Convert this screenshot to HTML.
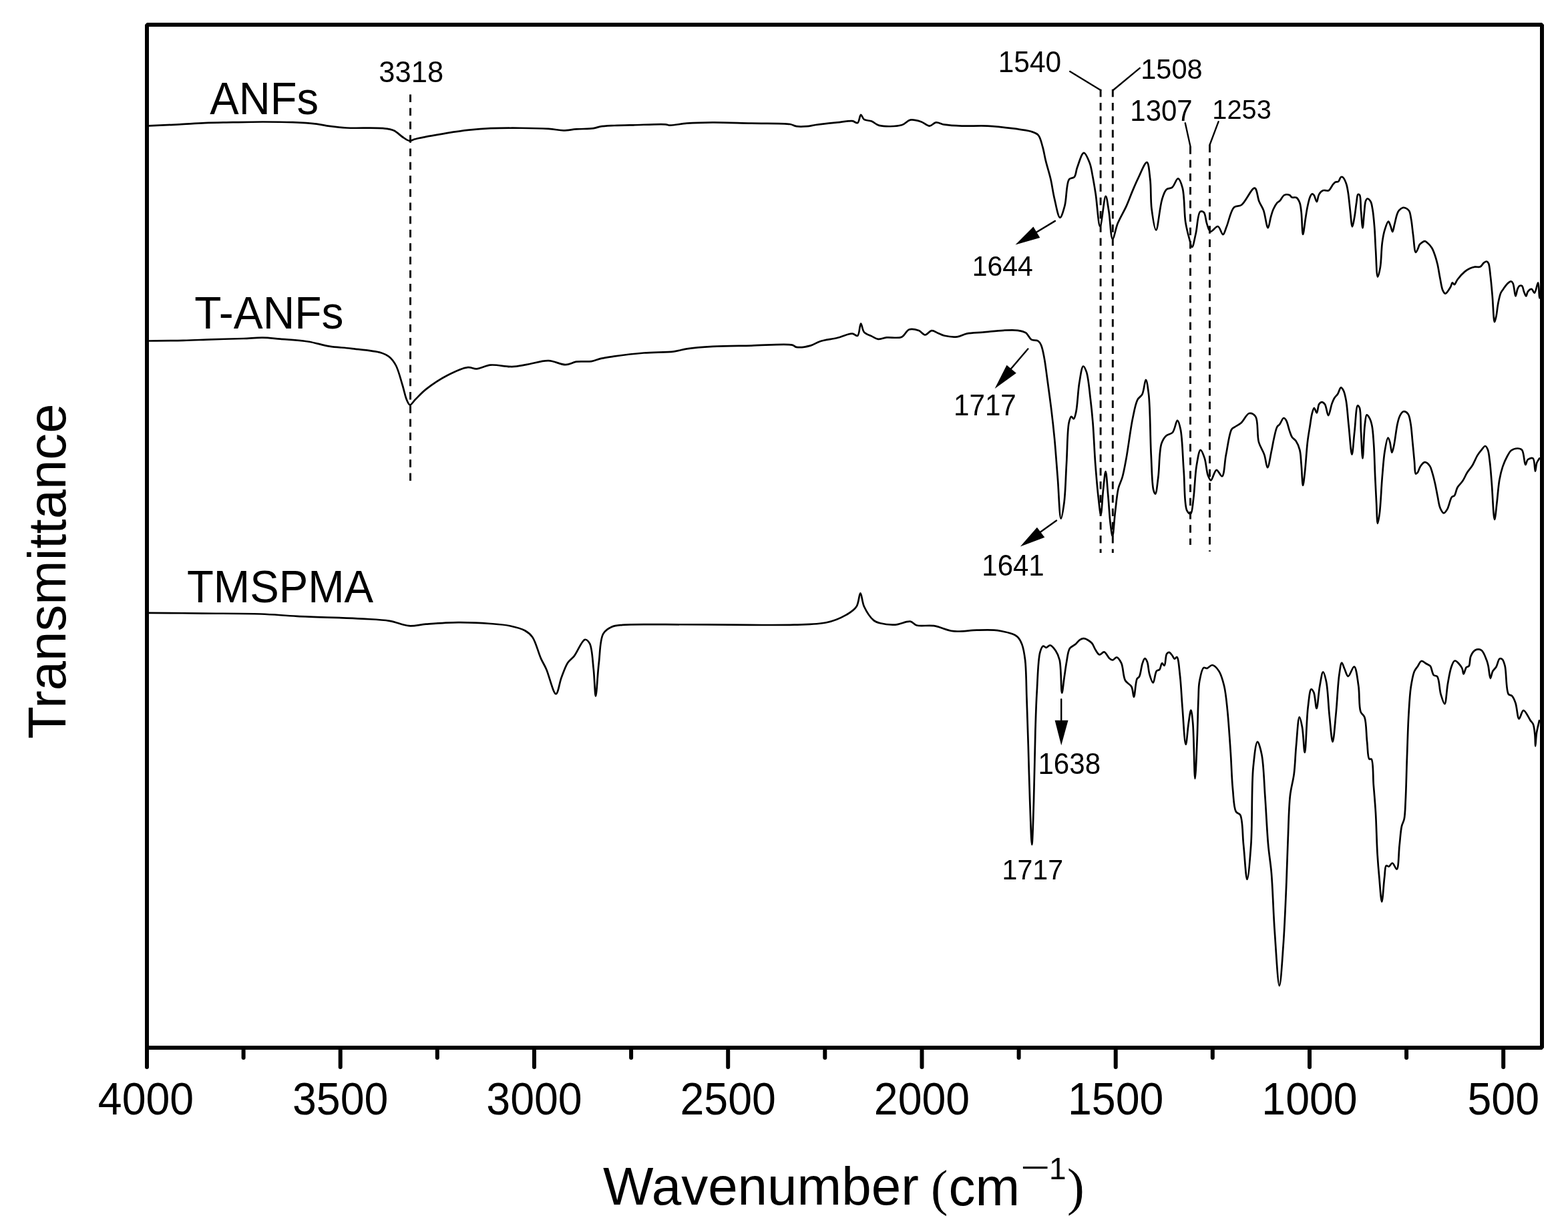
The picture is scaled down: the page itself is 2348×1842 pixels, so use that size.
<!DOCTYPE html>
<html><head><meta charset="utf-8"><title>FTIR spectra</title><style>
html,body{margin:0;padding:0;background:#fff;}
svg{display:block;}
text{font-family:"Liberation Sans",Arial,sans-serif;fill:#000;}
</style></head><body>
<svg width="2348" height="1842" viewBox="0 0 2348 1842">
<rect x="0" y="0" width="2348" height="1842" fill="#fff"/>
<g fill="none" stroke="#000" stroke-width="2.7" stroke-linejoin="round" stroke-linecap="round">
<path d="M220.0,188.5 C221.1,188.4 221.5,188.4 223.2,188.3 C229.5,188.0 253.8,187.1 268.2,186.4 C281.6,185.7 293.7,184.6 306.8,184.1 C320.5,183.5 334.4,183.5 348.6,183.2 C363.3,182.9 378.6,182.5 393.6,182.5 C408.6,182.5 424.5,182.6 438.6,183.2 C451.1,183.7 464.0,184.5 474.0,185.7 C481.4,186.6 486.4,188.0 493.3,188.9 C501.2,190.0 508.8,190.9 519.0,191.5 C533.8,192.3 560.9,190.9 573.7,192.2 C580.7,192.9 585.0,193.2 589.8,195.4 C594.6,197.5 598.5,202.3 602.6,205.0 C606.1,207.3 609.5,210.4 612.9,210.8 C615.9,211.2 617.7,209.2 621.9,208.2 C631.6,205.9 655.7,201.6 670.2,199.2 C682.0,197.3 691.6,195.9 702.3,194.7 C713.0,193.5 721.1,192.7 734.5,192.2 C756.4,191.4 801.8,191.6 821.3,192.8 C831.3,193.4 836.6,195.4 843.8,195.4 C850.5,195.4 856.2,193.9 863.1,193.4 C871.0,192.8 882.3,193.2 888.8,192.2 C892.8,191.6 894.6,190.3 898.5,189.6 C904.2,188.6 912.3,188.4 920.0,188.0 C928.8,187.6 937.5,187.5 948.2,187.3 C962.1,187.0 987.9,185.5 996.5,186.3 C999.7,186.6 1000.0,187.5 1002.9,187.6 C1008.6,187.9 1019.2,185.4 1028.6,184.7 C1040.1,183.9 1053.0,183.5 1067.2,183.4 C1084.5,183.3 1105.8,184.3 1125.1,184.7 C1144.4,185.1 1171.9,184.1 1183.0,186.0 C1187.6,186.8 1188.9,188.6 1192.6,189.2 C1197.2,190.0 1203.7,189.6 1208.7,189.2 C1213.2,188.8 1216.3,187.7 1221.5,187.0 C1229.8,185.8 1243.9,184.4 1253.7,183.4 C1261.9,182.5 1270.7,180.5 1276.2,181.2 C1279.6,181.6 1282.1,185.0 1284.2,184.1 C1286.8,183.0 1287.3,172.1 1289.1,171.9 C1290.6,171.7 1291.6,177.3 1293.9,178.9 C1296.6,180.8 1301.5,180.1 1305.1,181.5 C1309.0,183.0 1311.4,186.6 1316.4,187.9 C1324.5,189.9 1341.8,189.7 1350.2,187.3 C1355.8,185.7 1358.3,180.5 1363.0,179.6 C1367.9,178.7 1374.1,180.6 1379.1,182.2 C1383.8,183.7 1388.0,188.7 1392.0,188.6 C1395.5,188.5 1398.1,183.8 1401.6,183.4 C1405.5,182.9 1409.4,185.9 1414.5,186.7 C1421.6,187.9 1430.8,188.3 1440.2,188.6 C1451.8,189.0 1466.0,188.0 1478.8,188.6 C1491.6,189.2 1505.6,190.9 1517.2,192.4 C1526.8,193.7 1536.8,194.6 1543.6,196.8 C1548.2,198.3 1551.9,199.1 1554.7,202.3 C1558.2,206.2 1559.5,213.9 1561.3,220.0 C1563.2,226.4 1563.9,232.6 1565.7,239.8 C1567.8,248.5 1571.2,258.9 1573.4,268.5 C1575.6,278.0 1576.6,287.6 1578.9,297.1 C1581.2,306.7 1584.4,325.7 1587.3,325.8 C1589.6,325.9 1592.4,315.3 1594.4,308.1 C1597.3,297.6 1596.5,274.3 1601.0,268.5 C1603.1,265.8 1606.8,267.3 1608.7,265.1 C1611.3,262.2 1611.1,256.0 1613.1,250.8 C1615.6,244.2 1619.6,229.0 1623.0,228.8 C1625.9,228.7 1629.6,238.6 1631.8,244.2 C1634.1,250.2 1634.8,256.9 1636.2,264.0 C1637.8,272.2 1639.1,280.3 1640.7,290.5 C1642.8,304.2 1644.8,338.9 1647.3,339.0 C1649.8,339.1 1653.2,293.8 1655.7,293.8 C1657.5,293.8 1659.0,308.2 1660.5,317.0 C1662.5,328.7 1663.3,357.5 1666.0,357.8 C1668.1,358.0 1670.5,342.5 1673.7,334.6 C1677.3,325.9 1683.1,316.6 1686.9,308.1 C1690.3,300.5 1692.8,293.2 1695.8,286.1 C1698.7,279.3 1701.2,273.1 1704.6,266.3 C1708.3,258.8 1714.4,242.6 1717.4,243.1 C1720.3,243.6 1721.1,258.8 1722.3,268.5 C1723.8,281.1 1722.8,299.1 1724.5,312.6 C1726.0,324.2 1728.8,344.5 1731.1,344.5 C1733.9,344.5 1736.5,310.3 1739.9,299.3 C1741.9,292.7 1743.3,286.9 1746.5,283.9 C1748.9,281.6 1752.7,282.7 1755.3,280.6 C1758.7,277.9 1761.5,267.2 1764.1,267.4 C1766.7,267.6 1769.1,275.3 1770.8,281.7 C1773.9,293.2 1773.1,318.6 1775.2,332.4 C1776.7,342.0 1778.8,349.9 1780.7,356.7 C1782.1,361.8 1783.6,369.9 1785.1,369.9 C1786.9,369.9 1788.8,357.5 1790.6,350.0 C1792.9,340.4 1793.4,319.6 1797.2,317.0 C1798.8,316.0 1801.2,316.7 1802.7,318.1 C1805.3,320.5 1805.3,329.6 1807.1,334.6 C1808.7,339.0 1809.9,346.0 1812.7,346.7 C1815.5,347.4 1820.6,338.4 1823.7,339.0 C1826.9,339.6 1829.2,351.3 1831.4,351.1 C1833.5,350.9 1834.8,343.9 1836.9,339.0 C1840.0,331.5 1842.8,315.2 1847.9,310.4 C1851.1,307.5 1855.2,309.6 1859.0,307.0 C1865.3,302.7 1874.3,280.9 1878.8,281.7 C1882.4,282.3 1883.0,295.6 1885.4,301.5 C1887.4,306.5 1890.0,309.5 1892.0,314.8 C1894.7,322.0 1896.7,341.2 1898.7,341.2 C1900.3,341.2 1901.5,329.9 1903.0,325.0 C1904.2,320.8 1905.2,316.9 1906.8,313.3 C1908.4,309.8 1910.6,305.9 1912.5,303.7 C1913.8,302.3 1915.0,302.1 1916.4,300.8 C1918.5,298.8 1920.5,293.4 1923.2,292.1 C1925.5,291.0 1928.9,291.3 1930.9,292.1 C1932.5,292.7 1933.1,294.9 1934.7,295.6 C1936.5,296.4 1939.6,294.9 1941.5,296.0 C1943.6,297.3 1945.1,300.6 1946.3,303.7 C1947.7,307.5 1947.9,311.7 1948.6,317.2 C1949.7,325.9 1949.9,350.8 1951.1,350.9 C1952.1,350.9 1953.8,334.2 1955.0,326.8 C1956.0,320.6 1956.7,315.0 1957.9,309.5 C1959.0,304.4 1960.2,298.4 1961.7,295.0 C1962.6,293.0 1963.5,290.8 1964.6,290.5 C1965.5,290.3 1966.6,291.1 1967.5,292.1 C1969.1,293.9 1970.5,302.2 1971.8,302.1 C1973.1,302.0 1973.4,294.0 1975.2,291.1 C1976.7,288.6 1979.0,286.1 1981.0,285.3 C1982.6,284.6 1984.4,285.3 1985.9,285.3 C1987.2,285.3 1988.4,286.0 1989.7,285.3 C1991.9,284.1 1994.6,277.9 1996.5,275.7 C1997.6,274.4 1998.2,273.5 1999.4,272.8 C2000.7,272.1 2002.9,272.8 2004.2,271.8 C2005.9,270.6 2006.5,265.8 2008.0,265.1 C2008.9,264.7 2010.0,264.8 2010.9,265.5 C2012.7,266.7 2014.5,271.2 2015.8,274.7 C2017.3,278.7 2017.8,283.0 2018.7,288.2 C2019.9,295.3 2020.6,304.9 2021.6,313.3 C2022.7,321.9 2023.7,339.3 2025.0,339.4 C2026.0,339.4 2027.3,330.2 2028.3,324.9 C2029.5,318.5 2030.2,309.8 2031.2,303.7 C2032.0,298.9 2032.0,291.9 2033.5,291.1 C2034.2,290.7 2035.3,291.2 2036.0,292.1 C2038.0,294.8 2037.3,307.3 2038.0,315.2 C2038.8,323.6 2039.7,341.3 2040.5,341.3 C2041.3,341.3 2042.0,326.1 2042.8,319.1 C2043.5,312.7 2043.7,304.3 2045.1,300.8 C2045.8,299.1 2046.6,297.6 2047.6,297.5 C2048.9,297.4 2051.2,299.7 2052.4,301.7 C2054.1,304.4 2054.5,308.6 2055.3,313.3 C2056.6,320.4 2057.4,330.7 2058.2,340.3 C2059.1,351.2 2059.3,363.1 2060.1,375.1 C2060.9,387.9 2061.3,414.4 2063.0,414.6 C2064.0,414.7 2065.9,406.1 2066.9,400.1 C2068.5,390.7 2068.4,373.7 2069.8,363.5 C2070.8,356.0 2071.8,349.9 2073.6,344.2 C2075.1,339.5 2077.4,331.6 2079.0,331.6 C2080.2,331.6 2081.3,336.0 2082.3,338.4 C2083.4,341.1 2084.3,347.1 2085.2,347.1 C2086.2,347.1 2087.1,340.4 2088.1,336.5 C2089.3,331.8 2090.6,324.9 2092.0,321.0 C2092.9,318.5 2093.5,316.8 2094.9,315.2 C2096.4,313.5 2098.7,311.4 2100.7,311.0 C2102.5,310.6 2104.8,311.5 2106.4,312.4 C2108.0,313.3 2109.3,314.4 2110.3,316.2 C2111.9,319.0 2112.3,323.9 2113.2,328.8 C2114.4,335.3 2115.0,344.0 2116.1,351.9 C2117.3,360.3 2118.0,377.5 2120.0,377.9 C2121.1,378.1 2122.8,373.3 2123.8,371.2 C2124.6,369.5 2124.5,367.9 2125.7,366.4 C2127.3,364.4 2131.4,361.2 2133.5,361.2 C2135.0,361.2 2135.9,362.4 2137.3,363.5 C2139.4,365.2 2142.2,368.2 2144.1,371.2 C2146.2,374.5 2147.5,378.7 2148.9,382.8 C2150.4,387.1 2151.5,391.3 2152.7,396.3 C2154.1,402.5 2155.2,410.8 2156.6,417.5 C2157.8,423.6 2158.7,431.0 2160.5,434.9 C2161.6,437.2 2162.8,439.7 2164.3,439.7 C2166.4,439.7 2170.2,433.0 2172.0,430.0 C2173.4,427.7 2173.7,423.5 2174.9,423.3 C2175.8,423.1 2176.8,426.3 2177.8,426.2 C2179.3,426.0 2180.5,421.2 2182.6,418.5 C2185.3,414.9 2189.8,409.8 2193.3,406.9 C2195.9,404.7 2198.4,403.3 2201.0,402.1 C2203.5,400.9 2206.1,400.0 2208.7,399.6 C2211.2,399.2 2214.2,400.6 2216.4,399.6 C2218.7,398.6 2220.3,394.8 2222.2,393.4 C2223.5,392.4 2225.0,391.3 2226.1,391.5 C2227.2,391.7 2228.2,392.8 2229.0,394.4 C2230.7,397.9 2231.0,406.5 2231.9,413.6 C2233.0,422.3 2233.8,432.2 2234.7,442.6 C2235.8,454.7 2236.5,481.9 2238.0,482.1 C2238.7,482.2 2239.7,477.0 2240.5,473.5 C2241.6,468.4 2242.2,460.3 2243.4,454.2 C2244.5,448.7 2245.6,442.5 2247.3,438.7 C2248.4,436.2 2249.7,434.9 2251.1,432.9 C2252.8,430.5 2254.8,427.2 2256.9,425.2 C2258.7,423.5 2261.1,421.2 2262.7,421.4 C2263.9,421.5 2264.8,422.7 2265.6,424.3 C2267.5,427.8 2268.2,443.5 2269.5,443.5 C2270.5,443.5 2271.2,435.7 2272.4,432.9 C2273.3,430.9 2274.0,428.8 2275.3,428.1 C2276.4,427.5 2278.1,427.4 2279.1,428.1 C2280.7,429.2 2280.9,434.1 2282.0,436.8 C2283.0,439.2 2284.3,443.5 2285.3,443.5 C2286.3,443.5 2286.4,438.6 2287.8,436.8 C2289.2,435.0 2291.9,432.6 2293.6,432.9 C2295.3,433.2 2296.5,438.9 2297.8,438.7 C2299.8,438.4 2302.0,423.1 2303.2,423.3 C2304.7,423.5 2304.6,446.4 2305.2,446.4 C2305.5,446.4 2305.7,442.1 2306.0,440.0"/>
<path d="M220.0,510.6 C221.1,510.6 221.5,510.5 223.2,510.5 C230.1,510.4 258.4,510.3 274.7,509.9 C289.4,509.5 302.1,508.8 316.5,508.3 C332.0,507.8 350.7,507.5 364.7,507.0 C375.6,506.6 384.2,505.5 393.6,505.7 C402.4,505.8 409.8,506.9 419.4,507.7 C431.7,508.7 448.2,509.5 461.2,511.5 C472.7,513.3 482.5,516.9 493.3,518.6 C504.0,520.3 513.9,520.4 525.5,521.8 C539.3,523.5 560.2,525.0 570.5,528.2 C576.3,530.0 579.6,531.6 583.3,534.7 C587.2,538.0 590.2,542.1 593.0,547.5 C596.9,555.0 599.8,567.4 602.6,576.5 C605.1,584.5 606.7,593.7 609.1,599.0 C610.6,602.3 612.0,606.2 613.9,606.4 C616.1,606.6 618.7,601.4 621.9,598.3 C626.3,594.0 631.4,588.1 638.0,582.9 C646.6,576.1 659.3,567.6 670.2,562.0 C680.2,556.8 692.6,550.9 700.7,550.1 C705.8,549.6 708.8,552.5 713.6,552.3 C719.8,552.0 726.7,547.3 734.5,546.6 C744.0,545.7 756.9,549.4 766.6,549.1 C774.8,548.8 780.9,547.2 789.1,545.9 C798.9,544.3 811.2,539.8 821.3,540.1 C830.4,540.3 839.4,546.3 847.0,546.2 C853.0,546.1 857.2,542.6 863.1,541.7 C869.9,540.7 879.0,542.1 885.6,541.1 C891.0,540.3 894.8,538.1 900.0,536.9 C905.9,535.5 911.5,534.8 919.3,533.7 C931.2,532.0 949.3,529.7 964.3,528.5 C979.3,527.3 997.5,527.8 1009.3,526.3 C1017.1,525.3 1021.0,523.5 1028.6,522.4 C1039.2,520.8 1053.0,519.7 1067.2,518.9 C1084.5,517.9 1105.5,518.0 1125.1,517.6 C1145.2,517.2 1176.4,514.4 1186.2,516.6 C1189.6,517.4 1189.8,519.3 1192.6,519.8 C1197.5,520.7 1207.3,519.3 1213.5,517.6 C1218.9,516.2 1222.4,513.0 1228.0,511.2 C1235.2,508.9 1245.5,508.0 1253.7,506.0 C1261.5,504.1 1270.6,499.3 1276.2,499.6 C1279.6,499.8 1282.2,503.8 1284.2,502.8 C1287.2,501.3 1287.3,484.6 1289.1,484.5 C1290.6,484.4 1291.1,494.1 1293.9,497.3 C1296.6,500.4 1301.5,501.6 1305.1,503.4 C1308.4,505.1 1311.3,507.5 1314.8,507.9 C1318.7,508.4 1322.8,505.9 1327.7,505.4 C1334.1,504.7 1344.4,507.2 1350.2,504.7 C1355.1,502.6 1357.0,495.0 1361.4,493.5 C1365.6,492.0 1371.7,493.6 1375.9,495.1 C1379.6,496.5 1382.3,501.5 1385.5,501.5 C1388.7,501.5 1391.9,495.4 1395.2,495.1 C1398.3,494.8 1401.6,497.6 1404.8,498.9 C1408.0,500.2 1410.7,501.9 1414.5,502.8 C1419.7,504.0 1427.6,505.0 1433.4,504.3 C1438.6,503.7 1442.3,500.7 1447.8,499.6 C1454.7,498.2 1463.2,498.3 1471.7,497.6 C1481.4,496.8 1493.3,495.2 1502.7,494.8 C1510.5,494.4 1518.1,493.9 1524.2,494.8 C1528.8,495.5 1532.8,496.2 1536.2,498.4 C1539.6,500.7 1541.2,506.7 1544.5,508.6 C1547.3,510.3 1551.7,508.8 1554.1,510.3 C1556.3,511.6 1557.5,513.5 1558.8,516.3 C1561.0,520.7 1562.2,528.1 1563.6,535.4 C1565.5,544.9 1566.7,556.8 1568.4,568.8 C1570.3,582.8 1572.6,599.3 1574.4,614.2 C1576.2,628.7 1577.6,641.7 1579.1,657.2 C1580.8,675.5 1582.3,697.0 1583.9,716.9 C1585.5,736.8 1586.5,776.5 1588.7,776.6 C1590.1,776.7 1592.2,762.5 1593.5,752.7 C1595.5,737.3 1595.9,712.9 1597.1,693.0 C1598.3,673.1 1598.2,644.5 1600.6,633.3 C1601.6,628.7 1602.7,624.1 1604.2,623.8 C1605.3,623.6 1606.8,627.6 1607.8,627.3 C1609.4,626.9 1610.3,621.4 1611.4,616.6 C1613.5,607.1 1614.1,586.0 1616.2,573.6 C1617.8,564.1 1619.7,548.8 1622.1,548.5 C1623.5,548.3 1625.5,552.9 1626.9,556.9 C1629.8,565.2 1631.3,584.4 1632.9,597.5 C1634.4,609.8 1635.4,619.8 1636.5,633.3 C1637.9,650.7 1638.7,673.7 1640.1,693.0 C1641.5,711.1 1643.1,731.3 1644.8,745.6 C1646.0,755.5 1647.3,770.7 1648.4,770.7 C1649.7,770.7 1650.7,745.0 1652.0,733.6 C1653.1,723.8 1654.5,706.2 1655.6,706.2 C1656.9,706.2 1658.1,728.6 1659.2,740.8 C1660.5,754.3 1661.3,772.4 1662.7,783.8 C1663.7,791.5 1664.9,802.9 1665.9,802.9 C1667.3,802.9 1668.4,779.0 1669.9,767.1 C1671.4,755.2 1672.4,740.9 1674.7,731.3 C1676.3,724.6 1678.9,720.9 1680.7,714.5 C1683.0,706.3 1684.5,697.2 1686.6,685.9 C1689.6,669.6 1692.8,642.2 1696.2,626.2 C1698.5,615.2 1700.1,605.0 1703.4,598.7 C1705.4,594.8 1708.6,594.0 1710.5,590.3 C1713.2,585.0 1714.2,568.8 1715.8,568.8 C1717.4,568.8 1718.9,580.6 1720.1,590.3 C1722.5,610.1 1722.3,655.0 1723.7,681.1 C1724.8,701.0 1724.9,724.9 1727.2,733.6 C1728.0,736.7 1729.2,739.7 1730.1,739.6 C1731.8,739.4 1733.1,724.3 1734.4,714.5 C1736.2,700.7 1735.7,675.1 1739.2,664.4 C1741.1,658.7 1743.3,655.2 1746.4,652.4 C1749.1,649.9 1753.3,650.4 1755.9,647.6 C1759.4,643.8 1761.0,629.7 1763.1,629.7 C1764.9,629.7 1766.5,636.8 1767.8,642.9 C1770.6,655.9 1771.0,684.5 1772.6,705.0 C1774.2,725.1 1773.1,756.2 1777.4,764.7 C1778.9,767.7 1781.4,770.0 1782.9,769.5 C1785.4,768.6 1785.8,756.7 1787.0,748.0 C1788.9,734.8 1789.4,711.4 1791.7,697.8 C1793.3,688.3 1795.3,674.2 1797.7,673.9 C1799.5,673.7 1802.0,681.0 1803.7,685.9 C1806.1,692.8 1806.6,706.2 1808.9,712.1 C1810.2,715.4 1811.6,719.3 1813.2,719.3 C1815.6,719.3 1818.5,704.2 1821.6,703.8 C1824.2,703.5 1827.8,713.9 1830.0,713.3 C1833.5,712.3 1833.6,692.3 1835.9,681.1 C1838.4,668.9 1840.6,648.7 1844.3,642.9 C1845.8,640.6 1847.2,640.6 1849.1,639.3 C1851.7,637.5 1855.5,636.0 1858.6,633.3 C1862.6,629.8 1866.5,619.8 1870.6,619.0 C1873.7,618.4 1877.7,620.4 1880.1,623.8 C1884.6,630.2 1882.0,651.6 1884.9,662.0 C1887.0,669.6 1891.1,674.6 1893.3,681.1 C1895.4,687.4 1896.4,700.2 1898.0,700.2 C1899.9,700.2 1902.2,683.5 1903.9,675.8 C1905.4,669.0 1906.2,662.7 1907.7,656.5 C1909.1,650.5 1910.4,642.7 1912.5,639.1 C1913.7,637.1 1915.1,636.9 1916.4,635.2 C1918.3,632.9 1920.3,626.2 1922.2,626.0 C1923.5,625.8 1924.9,627.7 1926.0,629.5 C1928.0,632.7 1929.3,640.4 1930.9,644.9 C1932.2,648.5 1933.0,651.8 1934.7,654.5 C1936.3,656.9 1938.8,657.8 1940.5,660.3 C1942.8,663.7 1945.0,668.7 1946.3,673.8 C1947.9,680.0 1947.9,687.3 1948.6,695.1 C1949.5,704.6 1950.1,726.9 1951.1,726.9 C1951.9,726.9 1953.1,714.7 1954.0,706.6 C1955.4,694.7 1956.4,675.0 1957.9,662.3 C1959.0,652.7 1960.5,644.8 1961.7,637.2 C1962.7,630.9 1963.3,624.6 1964.6,619.8 C1965.5,616.3 1966.7,611.2 1967.9,611.1 C1969.1,611.0 1970.7,618.4 1971.8,618.3 C1973.2,618.1 1973.5,608.0 1975.2,605.3 C1976.3,603.6 1977.7,602.2 1979.1,602.1 C1980.6,602.0 1982.5,603.5 1983.9,605.3 C1986.3,608.5 1987.4,622.1 1989.1,622.1 C1990.9,622.1 1992.7,609.2 1994.5,604.4 C1995.8,600.9 1996.8,598.2 1998.4,595.7 C1999.8,593.5 2001.7,592.2 2003.2,589.9 C2005.0,587.2 2006.3,580.5 2008.0,580.3 C2009.3,580.2 2010.8,582.9 2011.9,585.1 C2013.7,588.7 2014.7,594.2 2015.8,600.5 C2017.5,610.1 2018.2,624.5 2019.6,637.2 C2021.1,651.1 2022.9,680.6 2024.4,680.6 C2025.8,680.6 2026.9,658.5 2028.3,646.8 C2029.8,634.1 2030.6,608.0 2033.1,607.3 C2034.0,607.1 2035.2,609.0 2036.0,611.1 C2038.1,616.8 2037.3,634.6 2038.0,646.8 C2038.8,659.7 2039.6,686.4 2040.5,686.4 C2041.5,686.4 2042.2,649.0 2043.7,637.2 C2044.5,630.4 2044.9,621.9 2046.6,621.4 C2047.6,621.1 2049.4,623.7 2050.5,625.6 C2052.2,628.4 2053.4,632.4 2054.4,637.2 C2056.0,644.6 2056.4,655.2 2057.2,666.1 C2058.2,680.1 2058.5,699.2 2059.2,714.4 C2059.8,728.0 2060.4,740.8 2061.1,752.9 C2061.7,763.8 2061.9,783.7 2063.0,783.8 C2063.8,783.8 2065.0,775.1 2065.9,768.4 C2067.5,755.9 2068.4,730.9 2069.8,714.4 C2071.0,700.4 2071.8,686.6 2073.6,675.8 C2074.9,667.9 2076.9,655.6 2078.5,655.5 C2079.5,655.4 2080.6,659.5 2081.4,662.3 C2082.6,666.3 2083.2,677.6 2084.3,677.7 C2085.2,677.7 2086.2,672.3 2087.2,668.0 C2089.0,660.0 2090.8,641.7 2092.9,633.3 C2094.1,628.3 2095.1,624.7 2096.8,621.7 C2098.1,619.4 2099.7,616.7 2101.6,616.3 C2103.6,615.9 2106.7,617.7 2108.4,619.8 C2110.7,622.6 2111.2,628.0 2112.2,633.3 C2113.6,640.7 2114.2,651.0 2115.1,660.3 C2116.1,670.2 2117.1,682.2 2118.0,691.2 C2118.7,698.1 2118.3,708.7 2120.0,709.5 C2120.7,709.8 2121.9,708.6 2122.8,707.6 C2124.3,705.9 2124.9,701.5 2126.7,698.9 C2128.5,696.3 2131.1,692.4 2133.5,692.2 C2135.9,692.0 2139.3,695.4 2141.2,698.0 C2143.2,700.8 2143.8,704.7 2145.0,708.6 C2146.4,713.2 2147.7,718.6 2148.9,724.0 C2150.3,730.1 2151.4,737.0 2152.7,743.3 C2154.0,749.3 2154.6,756.2 2156.6,760.7 C2158.0,764.0 2160.1,768.3 2162.0,768.4 C2163.7,768.5 2165.6,765.3 2167.2,762.6 C2169.8,758.4 2171.4,747.2 2174.0,744.3 C2175.2,742.9 2176.7,743.6 2177.8,742.3 C2179.8,740.0 2180.4,733.6 2182.6,729.8 C2184.7,726.2 2188.0,723.7 2190.4,720.1 C2192.9,716.3 2194.6,711.5 2197.1,707.6 C2199.5,703.8 2202.4,701.0 2204.8,697.0 C2207.6,692.4 2210.0,685.8 2212.6,681.6 C2214.5,678.5 2216.4,676.1 2218.4,673.8 C2220.2,671.7 2222.5,667.8 2224.1,668.0 C2225.6,668.1 2227.0,671.2 2228.0,673.8 C2229.6,677.9 2230.0,684.5 2230.9,691.2 C2232.1,700.4 2232.8,711.7 2233.8,724.0 C2235.1,739.8 2236.4,778.0 2238.0,778.0 C2239.1,778.0 2240.4,762.0 2241.5,752.9 C2242.8,742.3 2243.6,728.0 2245.4,718.2 C2246.7,710.8 2248.2,704.9 2250.2,698.9 C2252.1,693.4 2254.5,687.8 2256.9,683.5 C2258.8,680.1 2260.1,676.8 2262.7,674.8 C2265.3,672.8 2269.5,671.5 2272.4,671.5 C2274.8,671.5 2277.3,671.8 2279.1,673.8 C2282.3,677.3 2282.5,695.8 2284.3,696.0 C2285.4,696.1 2285.9,689.9 2287.8,688.3 C2289.7,686.8 2293.6,685.2 2295.5,686.4 C2298.4,688.3 2298.0,705.7 2299.0,705.7 C2299.8,705.7 2300.0,696.6 2301.3,693.1 C2302.3,690.4 2303.9,688.6 2305.2,686.4"/>
<path d="M220.0,918.0 C221.1,918.0 221.4,917.9 223.2,917.9 C232.1,917.8 276.3,918.3 303.6,918.6 C332.0,918.9 364.8,918.6 390.4,919.5 C410.7,920.2 424.3,921.8 445.1,922.8 C472.7,924.2 516.0,925.1 541.5,926.6 C558.3,927.6 570.7,927.7 583.3,929.8 C593.9,931.5 602.9,936.5 612.3,937.2 C621.1,937.9 628.1,935.4 638.0,934.7 C651.6,933.7 670.1,932.2 686.2,932.1 C702.3,932.0 720.5,932.9 734.5,934.0 C745.4,934.8 754.5,935.3 763.4,937.2 C771.5,938.9 779.9,941.0 785.9,944.3 C790.6,946.9 793.8,949.3 797.2,954.0 C802.4,961.2 806.0,977.3 810.0,986.1 C812.9,992.5 815.2,995.6 818.1,1002.2 C822.4,1011.9 828.5,1039.3 832.5,1039.2 C835.7,1039.1 837.6,1022.9 840.6,1015.0 C843.5,1007.3 846.4,998.3 850.2,992.5 C853.1,988.1 856.5,986.6 859.9,982.3 C864.8,976.1 871.3,958.5 875.9,957.8 C878.5,957.4 881.1,960.3 883.0,963.6 C886.9,970.5 887.3,989.2 888.8,1002.2 C890.3,1015.4 890.8,1042.4 892.0,1042.4 C893.4,1042.4 894.8,1008.5 896.8,992.5 C898.6,977.5 898.2,958.1 903.3,949.1 C906.5,943.6 911.3,941.0 916.1,938.8 C920.9,936.6 925.0,936.6 932.2,935.9 C946.5,934.5 972.9,935.3 996.5,935.2 C1025.4,935.1 1060.8,935.5 1092.9,935.6 C1125.1,935.7 1162.8,936.5 1189.4,935.6 C1208.2,935.0 1223.8,935.4 1237.6,932.3 C1248.7,929.8 1258.6,925.7 1266.6,921.1 C1273.1,917.4 1279.0,913.7 1282.6,908.2 C1286.2,902.7 1286.5,888.3 1288.4,888.3 C1290.3,888.3 1290.9,901.7 1293.9,908.2 C1297.3,915.4 1303.5,925.0 1308.4,929.1 C1311.6,931.7 1314.0,932.3 1318.0,933.3 C1323.8,934.8 1333.0,936.0 1340.5,935.6 C1348.0,935.2 1357.2,929.8 1363.0,930.7 C1367.1,931.4 1368.5,935.3 1372.7,936.5 C1379.0,938.3 1389.7,935.9 1398.4,937.2 C1407.8,938.6 1417.1,944.0 1427.3,945.2 C1438.4,946.5 1451.8,943.8 1462.7,943.6 C1471.9,943.4 1481.5,943.1 1488.4,943.6 C1493.0,943.9 1496.0,944.4 1500.0,945.2 C1504.5,946.1 1510.0,947.2 1514.1,948.7 C1517.6,950.0 1520.8,951.0 1523.4,953.4 C1526.4,956.2 1528.6,960.3 1530.4,965.1 C1532.8,971.4 1533.9,978.9 1535.1,988.5 C1536.9,1003.6 1536.7,1026.7 1537.5,1047.1 C1538.3,1069.5 1539.0,1093.1 1539.8,1117.4 C1540.6,1143.7 1541.2,1173.5 1542.2,1199.3 C1543.1,1222.4 1544.2,1264.9 1545.2,1264.9 C1546.2,1264.9 1547.2,1223.8 1548.0,1199.3 C1549.0,1168.3 1549.5,1123.9 1550.4,1093.9 C1551.1,1071.5 1551.5,1054.9 1552.7,1035.4 C1553.9,1015.9 1554.3,987.8 1557.4,976.8 C1558.7,972.2 1560.2,968.1 1562.1,967.5 C1563.5,967.1 1565.1,969.9 1566.7,969.8 C1568.6,969.7 1570.6,966.0 1572.6,966.3 C1575.2,966.6 1578.5,971.1 1580.8,974.5 C1583.4,978.3 1585.2,982.3 1586.7,988.5 C1589.4,999.8 1588.7,1037.6 1590.2,1037.7 C1591.2,1037.7 1592.5,1022.1 1593.7,1014.3 C1594.9,1006.5 1595.8,998.4 1597.2,990.9 C1598.5,984.0 1599.0,975.4 1601.9,971.0 C1604.0,967.9 1607.6,967.3 1610.1,965.1 C1612.6,963.0 1614.7,959.6 1617.1,958.1 C1619.0,956.9 1620.8,956.0 1623.0,956.2 C1626.3,956.5 1631.8,959.8 1634.7,962.8 C1637.5,965.6 1638.4,970.2 1640.5,973.3 C1642.3,976.0 1644.2,980.0 1646.4,980.4 C1648.5,980.8 1651.1,976.0 1653.4,976.4 C1656.2,976.9 1659.0,984.2 1661.6,986.2 C1663.2,987.5 1664.7,988.6 1666.3,988.5 C1668.2,988.3 1670.2,984.0 1672.1,984.3 C1674.5,984.6 1677.3,989.2 1679.2,993.2 C1682.1,999.3 1681.6,1012.8 1685.0,1019.0 C1687.4,1023.4 1692.3,1024.5 1694.4,1028.4 C1696.7,1032.6 1696.7,1043.6 1697.9,1043.6 C1699.5,1043.6 1700.2,1021.3 1702.6,1016.7 C1703.6,1014.7 1705.1,1015.0 1706.1,1013.1 C1708.2,1009.3 1709.0,998.1 1710.8,993.2 C1711.9,990.2 1713.0,986.3 1714.3,986.2 C1715.4,986.1 1716.8,988.7 1717.8,990.9 C1719.6,994.9 1719.6,1004.0 1721.3,1009.6 C1722.7,1014.4 1725.0,1022.6 1726.7,1022.5 C1728.6,1022.4 1729.4,1007.9 1731.9,1004.9 C1733.2,1003.3 1735.3,1004.0 1736.5,1002.6 C1738.2,1000.7 1738.5,993.5 1740.0,993.2 C1741.0,993.0 1742.6,997.0 1743.6,996.7 C1745.5,996.1 1745.1,982.2 1747.1,979.2 C1748.1,977.7 1749.4,976.7 1750.6,976.8 C1752.1,976.9 1753.9,979.8 1755.3,981.5 C1756.6,983.1 1757.5,986.5 1758.8,986.7 C1759.9,986.9 1761.3,983.5 1762.3,983.9 C1764.9,984.9 1765.7,1001.4 1767.0,1012.0 C1768.6,1025.6 1769.2,1042.5 1770.5,1058.8 C1772.0,1076.7 1773.8,1115.0 1775.6,1115.0 C1777.0,1115.0 1778.4,1091.6 1779.9,1082.2 C1781.0,1075.1 1782.3,1063.5 1783.4,1063.5 C1784.4,1063.5 1785.4,1073.7 1786.2,1082.2 C1787.9,1100.1 1788.3,1166.0 1789.5,1166.0 C1790.5,1166.0 1791.9,1125.6 1792.7,1105.6 C1793.5,1085.8 1793.8,1062.3 1794.5,1046.6 C1795.0,1036.2 1794.6,1028.9 1796.1,1020.8 C1797.4,1013.4 1799.5,1001.7 1802.5,999.9 C1803.9,999.0 1805.6,1001.2 1807.4,1000.9 C1809.8,1000.5 1812.7,995.8 1815.4,996.0 C1818.6,996.3 1822.4,1000.7 1825.1,1004.7 C1828.8,1010.1 1831.0,1018.7 1833.1,1027.2 C1835.6,1037.6 1836.5,1049.0 1837.9,1062.6 C1839.8,1080.9 1841.4,1106.4 1842.8,1127.0 C1844.1,1146.0 1844.4,1165.7 1846.0,1181.7 C1847.3,1194.3 1847.3,1209.6 1850.8,1215.5 C1852.5,1218.4 1855.5,1217.4 1857.2,1220.4 C1861.2,1227.6 1860.4,1249.9 1862.1,1265.4 C1863.9,1282.0 1865.6,1316.9 1867.5,1316.9 C1869.4,1316.9 1871.8,1286.0 1873.3,1265.4 C1875.5,1234.5 1873.9,1177.7 1876.6,1149.5 C1878.2,1133.1 1880.4,1111.1 1883.0,1110.9 C1884.9,1110.8 1887.7,1121.8 1889.4,1130.2 C1892.3,1144.7 1892.8,1170.0 1894.3,1191.4 C1896.0,1214.9 1897.2,1244.2 1899.1,1265.4 C1900.5,1281.4 1902.5,1290.8 1903.9,1307.3 C1905.9,1331.0 1906.7,1365.7 1908.7,1394.2 C1910.7,1421.9 1913.5,1476.2 1915.8,1476.2 C1917.8,1476.2 1920.0,1438.9 1921.6,1416.7 C1923.7,1388.4 1925.2,1349.0 1926.4,1320.1 C1927.4,1296.5 1927.8,1277.2 1928.7,1255.8 C1929.6,1234.3 1929.9,1209.1 1931.9,1191.4 C1933.3,1178.8 1936.2,1170.7 1937.7,1159.2 C1939.4,1146.2 1939.6,1131.5 1940.9,1117.4 C1942.3,1103.0 1943.7,1074.1 1945.8,1073.9 C1947.0,1073.8 1948.7,1082.3 1949.9,1088.4 C1951.8,1098.1 1952.5,1127.0 1953.8,1127.0 C1955.5,1127.0 1956.4,1076.9 1958.6,1059.4 C1960.0,1048.2 1961.1,1032.7 1963.5,1032.1 C1964.6,1031.8 1966.2,1034.5 1967.3,1036.9 C1969.5,1041.7 1970.1,1061.0 1971.5,1061.0 C1973.1,1061.0 1974.4,1037.1 1976.3,1027.2 C1977.8,1019.4 1979.4,1006.4 1981.2,1006.3 C1982.7,1006.2 1984.7,1014.4 1986.0,1020.8 C1988.5,1032.6 1989.1,1056.4 1990.8,1072.3 C1992.3,1086.1 1994.0,1110.9 1995.6,1110.9 C1997.2,1110.9 1999.0,1084.2 2000.5,1069.1 C2002.3,1051.4 2003.3,1025.1 2005.3,1011.2 C2006.5,1003.2 2007.6,992.7 2009.2,992.5 C2010.4,992.4 2011.8,998.3 2013.3,1001.5 C2015.0,1005.1 2016.6,1012.7 2018.8,1012.8 C2021.3,1012.9 2025.4,997.9 2027.8,998.3 C2031.0,998.8 2032.7,1016.8 2034.3,1027.2 C2036.1,1039.1 2034.6,1058.1 2037.5,1065.9 C2039.0,1069.9 2041.8,1070.0 2043.3,1073.9 C2046.2,1081.5 2045.8,1099.7 2047.1,1110.9 C2048.2,1120.3 2047.9,1134.5 2050.4,1136.7 C2051.3,1137.5 2052.7,1135.9 2053.6,1136.7 C2056.7,1139.6 2055.8,1162.2 2056.8,1175.3 C2057.9,1189.0 2059.1,1202.0 2060.0,1217.4 C2061.1,1236.0 2061.5,1261.7 2062.6,1279.3 C2063.4,1292.4 2064.2,1301.9 2065.3,1313.5 C2066.4,1325.6 2067.9,1350.4 2069.2,1350.4 C2070.5,1350.4 2071.9,1323.5 2073.2,1313.5 C2074.1,1306.7 2073.7,1297.7 2075.8,1296.4 C2076.8,1295.8 2078.5,1298.0 2079.8,1297.7 C2081.6,1297.3 2083.2,1292.4 2085.0,1292.5 C2087.2,1292.7 2089.9,1302.1 2091.6,1301.7 C2094.6,1300.9 2094.3,1277.4 2095.6,1266.1 C2096.8,1255.9 2097.3,1244.3 2099.0,1237.1 C2100.0,1232.7 2101.8,1231.0 2102.7,1226.6 C2104.2,1219.4 2104.2,1209.1 2104.8,1197.6 C2105.7,1180.6 2106.1,1155.7 2106.9,1134.4 C2107.7,1112.7 2108.3,1087.7 2109.5,1068.5 C2110.4,1053.6 2111.0,1040.4 2112.7,1029.0 C2114.1,1020.0 2115.6,1010.9 2118.0,1005.3 C2119.5,1001.8 2121.4,1000.0 2123.2,997.4 C2124.9,994.9 2126.3,990.5 2128.5,990.0 C2130.7,989.5 2134.0,993.0 2136.4,994.3 C2138.4,995.4 2140.2,995.6 2141.7,997.4 C2144.0,1000.2 2144.5,1008.7 2146.9,1011.1 C2148.4,1012.6 2150.7,1011.4 2152.2,1013.2 C2155.4,1017.0 2155.3,1032.2 2157.5,1039.6 C2159.2,1045.2 2161.7,1054.3 2163.3,1054.1 C2165.5,1053.8 2166.2,1033.4 2168.0,1023.8 C2169.6,1015.0 2171.0,1004.9 2173.3,998.7 C2174.8,994.7 2176.2,989.8 2178.5,989.5 C2181.2,989.1 2186.9,996.4 2189.1,1000.1 C2190.8,1003.1 2190.6,1009.2 2191.7,1009.3 C2192.8,1009.4 2194.0,1001.4 2195.7,999.5 C2196.8,998.2 2198.6,998.8 2199.6,997.4 C2201.5,994.9 2200.6,987.0 2202.3,982.9 C2203.8,979.3 2206.0,975.2 2208.8,973.7 C2211.4,972.4 2215.5,972.1 2218.1,973.7 C2221.6,975.8 2224.2,983.8 2226.0,988.2 C2227.4,991.5 2227.8,993.8 2228.6,997.4 C2229.8,1002.5 2230.5,1015.8 2231.8,1015.9 C2232.8,1016.0 2233.6,1008.3 2235.2,1005.3 C2236.6,1002.7 2238.9,1001.4 2240.5,998.7 C2242.5,995.3 2243.5,987.5 2245.7,986.4 C2246.9,985.8 2248.6,986.4 2249.7,987.4 C2251.5,989.0 2252.4,992.8 2253.6,997.4 C2255.9,1006.5 2255.0,1034.1 2258.9,1039.6 C2260.4,1041.7 2262.7,1040.7 2264.2,1042.2 C2266.4,1044.4 2267.9,1048.4 2269.4,1052.7 C2271.6,1058.9 2272.3,1076.1 2274.7,1076.4 C2276.5,1076.6 2278.7,1064.0 2281.3,1063.8 C2284.3,1063.6 2289.1,1075.3 2291.8,1079.1 C2293.4,1081.3 2294.8,1082.0 2295.8,1084.4 C2297.4,1088.1 2297.8,1094.8 2298.4,1100.2 C2299.0,1105.8 2298.8,1117.3 2299.2,1117.3 C2299.6,1117.3 2300.0,1103.9 2301.0,1097.5 C2302.0,1091.2 2303.7,1085.2 2305.0,1079.1"/>
</g>
<g fill="none" stroke="#000" stroke-width="2.9" stroke-dasharray="11.5 8.75">
<line x1="614.5" y1="141.4" x2="614.5" y2="721"/>
<line x1="1648.1" y1="133.7" x2="1648.1" y2="828"/>
<line x1="1666.3" y1="133.7" x2="1666.3" y2="828"/>
<line x1="1782.5" y1="219.2" x2="1782.5" y2="816"/>
<line x1="1811.5" y1="216.8" x2="1811.5" y2="826"/>
</g>
<g fill="none" stroke="#000" stroke-width="2.4" stroke-linecap="round" stroke-linejoin="round">
<polyline points="1602.2,106.9 1648.1,135"/>
<polyline points="1706.9,101.9 1666.3,135.5"/>
<polyline points="1774.8,184.3 1782.5,219.2"/>
<polyline points="1824.6,182.2 1811.5,217"/>
<line x1="1580" y1="330.9" x2="1535" y2="358"/>
<line x1="1539.3" y1="522.5" x2="1503" y2="565"/>
<line x1="1582" y1="779.5" x2="1545" y2="806"/>
<line x1="1589.2" y1="1047.1" x2="1589.2" y2="1090"/>
</g>
<g fill="#000" stroke="none">
<polygon points="1520.5,366.6 1547.4,339.5 1557.3,356"/>
<polygon points="1489.6,582 1507.5,546.8 1521.8,558.8"/>
<polygon points="1527.8,818.4 1552.9,789.8 1564.3,804.8"/>
<polygon points="1589.2,1116.2 1579.6,1078.7 1599.5,1078.7"/>
</g>
<g fill="none" stroke="#000" stroke-width="6" stroke-linecap="round">
<line x1="220.0" y1="1569" x2="220.0" y2="1598"/><line x1="364.6" y1="1569" x2="364.6" y2="1584"/><line x1="509.7" y1="1569" x2="509.7" y2="1598"/><line x1="654.8" y1="1569" x2="654.8" y2="1584"/><line x1="800.0" y1="1569" x2="800.0" y2="1598"/><line x1="945.1" y1="1569" x2="945.1" y2="1584"/><line x1="1090.2" y1="1569" x2="1090.2" y2="1598"/><line x1="1235.3" y1="1569" x2="1235.3" y2="1584"/><line x1="1380.5" y1="1569" x2="1380.5" y2="1598"/><line x1="1525.6" y1="1569" x2="1525.6" y2="1584"/><line x1="1670.7" y1="1569" x2="1670.7" y2="1598"/><line x1="1815.8" y1="1569" x2="1815.8" y2="1584"/><line x1="1961.0" y1="1569" x2="1961.0" y2="1598"/><line x1="2106.1" y1="1569" x2="2106.1" y2="1584"/><line x1="2251.2" y1="1569" x2="2251.2" y2="1598"/>
</g>
<rect x="220" y="37" width="2089" height="1532" fill="none" stroke="#000" stroke-width="6" stroke-linejoin="bevel"/>
<g font-size="64.5">
<text transform="translate(218.5 1668.5) scale(1 1.055)" text-anchor="middle">4000</text><text transform="translate(509.7 1668.5) scale(1 1.055)" text-anchor="middle">3500</text><text transform="translate(800.0 1668.5) scale(1 1.055)" text-anchor="middle">3000</text><text transform="translate(1090.2 1668.5) scale(1 1.055)" text-anchor="middle">2500</text><text transform="translate(1380.5 1668.5) scale(1 1.055)" text-anchor="middle">2000</text><text transform="translate(1670.7 1668.5) scale(1 1.055)" text-anchor="middle">1500</text><text transform="translate(1961.0 1668.5) scale(1 1.055)" text-anchor="middle">1000</text><text transform="translate(2251.2 1668.5) scale(1 1.055)" text-anchor="middle">500</text>
</g>
<text transform="translate(314.3 171.2) scale(1 1.04)" font-size="65.08">ANFs</text>
<text transform="translate(291.29 491.6) scale(1 1.04)" font-size="65.84">T-ANFs</text>
<text transform="translate(279.9 901.6) scale(1 1.04)" font-size="65.28">TMSPMA</text>
<text transform="translate(567.33 122.81) scale(1 1.04)" font-size="43.51">3318</text>
<text transform="translate(1494.77 107.8) scale(1 1.04)" font-size="42.42">1540</text>
<text transform="translate(1708.23 117.8) scale(1 1.04)" font-size="41.57">1508</text>
<text transform="translate(1692.3 180.6) scale(1 1.04)" font-size="42.0">1307</text>
<text transform="translate(1815.36 178.03) scale(1 1.04)" font-size="39.76">1253</text>
<text transform="translate(1455.78 412.8) scale(1 1.04)" font-size="40.91">1644</text>
<text transform="translate(1427.99 621.8) scale(1 1.04)" font-size="42.19">1717</text>
<text transform="translate(1470.3 862.2) scale(1 1.04)" font-size="42.0">1641</text>
<text transform="translate(1554.39 1159.0) scale(1 1.04)" font-size="42.14">1638</text>
<text transform="translate(1500.56 1317.21) scale(1 1.04)" font-size="41.14">1717</text>
<text x="903.1" y="1804.0" font-size="80.0">Wavenumber</text>
<text x="1420.6" y="1804.8" font-size="80.0">cm</text>
<text x="1394.09" y="1804.69" font-size="76.27" style="font-family:&quot;Liberation Serif&quot;,serif">(</text>
<text x="1598.1" y="1804.47" font-size="77.33" style="font-family:&quot;Liberation Serif&quot;,serif">)</text>
<text x="1528.6" y="1764" font-size="46" textLength="44" lengthAdjust="spacingAndGlyphs">&#8722;</text>
<text x="1571" y="1766" font-size="46">1</text>
<text transform="translate(97.5,855.5) rotate(-90)" text-anchor="middle" font-size="79.7">Transmittance</text>
</svg>
</body></html>
